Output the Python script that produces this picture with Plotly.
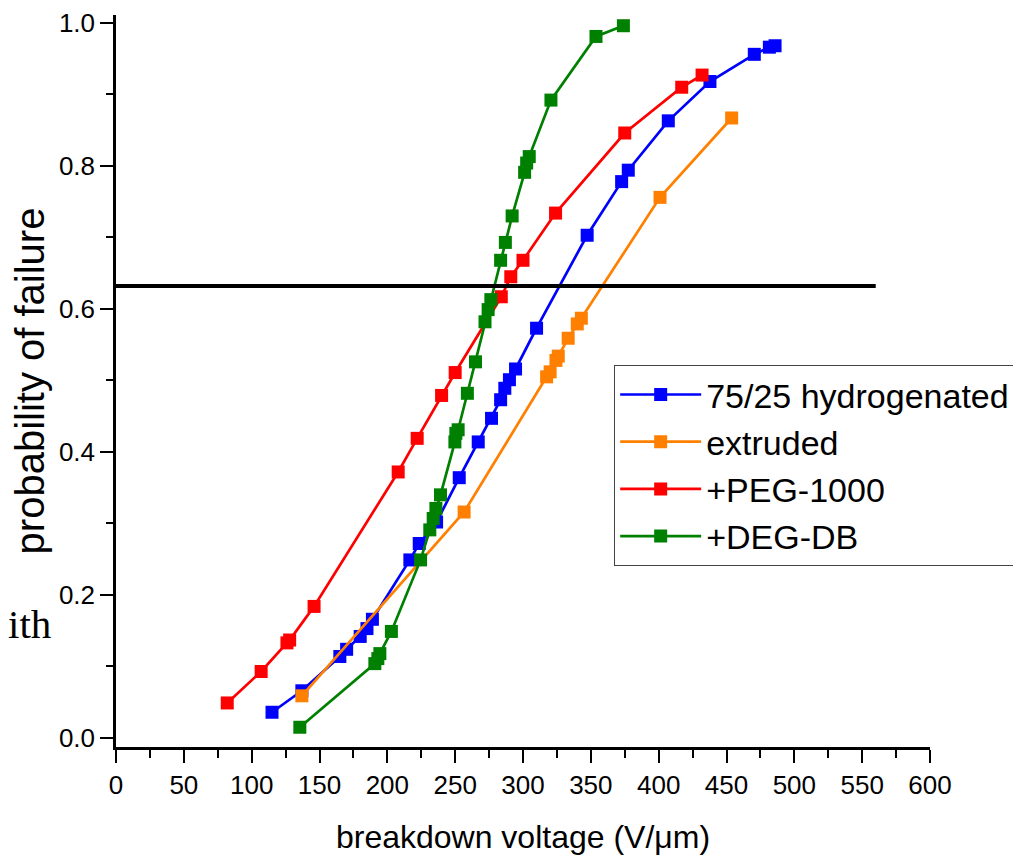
import plotly.graph_objects as go

# ---- data ----
blue_name = "75/25 hydrogenated"
blue_x = [115, 137, 165, 170, 180, 185, 189, 216.6, 223.5, 236.3, 253, 267, 276.8, 283.5,
          286.6, 290, 294.5, 310, 347.3, 372.7, 377.6, 407.1, 437.8, 470.5, 481.6, 485.8]
blue_y = [0.036, 0.066, 0.114, 0.124, 0.142, 0.153, 0.166, 0.249, 0.272, 0.302, 0.364, 0.414,
          0.447, 0.473, 0.489, 0.501, 0.516, 0.573, 0.703, 0.778, 0.794, 0.863, 0.918, 0.956,
          0.966, 0.968]

orange_name = "extruded"
orange_x = [137, 256.6, 317.4, 320, 324.3, 326, 333.3, 340, 343, 401, 453.8]
orange_y = [0.059, 0.316, 0.505, 0.512, 0.528, 0.534, 0.559, 0.579, 0.587, 0.756, 0.867]

red_name = "+PEG-1000"
red_x = [82, 107, 126, 128, 146, 208, 222, 240, 250, 284, 291, 300, 324, 375, 417, 432]
red_y = [0.049, 0.093, 0.133, 0.137, 0.184, 0.372, 0.419, 0.479, 0.511, 0.617, 0.645, 0.668,
         0.734, 0.846, 0.910, 0.927]

green_name = "+DEG-DB"
green_x = [135.5, 190.8, 193, 194.5, 203, 224.5, 231.3, 233.8, 235.8, 239.2, 249.8, 250.5,
           252.2, 259, 265, 272, 274.3, 276.3, 283.5, 287, 292, 301.2, 302.7, 304.6, 320.6,
           353.8, 374]
green_y = [0.015, 0.104, 0.111, 0.118, 0.149, 0.249, 0.291, 0.307, 0.321, 0.340, 0.414, 0.426,
           0.431, 0.482, 0.526, 0.582, 0.599, 0.613, 0.668, 0.693, 0.730, 0.791, 0.804, 0.813,
           0.892, 0.981, 0.996]

ref_line_x = [0, 560]
ref_line_y = [0.632, 0.632]

x_ticks = [0, 50, 100, 150, 200, 250, 300, 350, 400, 450, 500, 550, 600]
y_ticks = [0.0, 0.2, 0.4, 0.6, 0.8, 1.0]

x_title = "breakdown voltage (V/\u03bcm)"
y_title = "probability of failure"
stray_text = "ith"

# ---- figure ----
FONT = "Liberation Sans, Arial, sans-serif"
series = [
    (blue_name, blue_x, blue_y, "#0000FF"),
    (orange_name, orange_x, orange_y, "#FF8000"),
    (red_name, red_x, red_y, "#FF0000"),
    (green_name, green_x, green_y, "#008000"),
]

fig = go.Figure()
for name, xs, ys, col in series:
    fig.add_trace(go.Scatter(
        x=xs, y=ys, name=name, mode="lines+markers",
        line=dict(color=col, width=2.7),
        marker=dict(symbol="square", size=13, color=col),
    ))

fig.add_trace(go.Scatter(
    x=ref_line_x, y=ref_line_y, mode="lines", showlegend=False,
    line=dict(color="black", width=4), hoverinfo="skip",
))

axis_common = dict(
    showline=True, linecolor="black", linewidth=2.5, mirror=False, automargin=False,
    showgrid=False, zeroline=False, ticks="outside", tickcolor="black",
    tickwidth=2, ticklen=13, tickfont=dict(family=FONT, size=26, color="black"),
    ticklabeloverflow="allow",
)

fig.update_xaxes(
    range=[0, 600], tickvals=x_ticks,
    minor=dict(dtick=25, ticks="outside", ticklen=8, tickwidth=2, tickcolor="black"),
    title=dict(text=x_title, font=dict(family=FONT, size=32, color="black"), standoff=27),
    **axis_common,
)
fig.update_yaxes(
    range=[-0.0126, 1.011], tickvals=y_ticks, tickformat=".1f",
    minor=dict(dtick=0.1, ticks="outside", ticklen=7, tickwidth=2, tickcolor="black"),
    title=dict(text=y_title, font=dict(family=FONT, size=40, color="black"), standoff=8),
    **axis_common,
)

fig.add_annotation(
    text=stray_text, xref="paper", yref="paper", x=-0.135, y=0.168,
    xanchor="left", yanchor="middle", showarrow=False,
    font=dict(family="Liberation Serif, Times New Roman, serif", size=41, color="black"),
)

fig.update_layout(
    width=1021, height=857,
    margin=dict(l=108, r=99, t=7, b=118),
    paper_bgcolor="white", plot_bgcolor="white",
    showlegend=True,
    legend=dict(
        x=0.612, y=0.522, xanchor="left", yanchor="top",
        bgcolor="white", bordercolor="#444444", borderwidth=1,
        font=dict(family=FONT, size=34, color="black"),
        itemwidth=81, tracegroupgap=0,
    ),
)

fig.write_html("out.html")
